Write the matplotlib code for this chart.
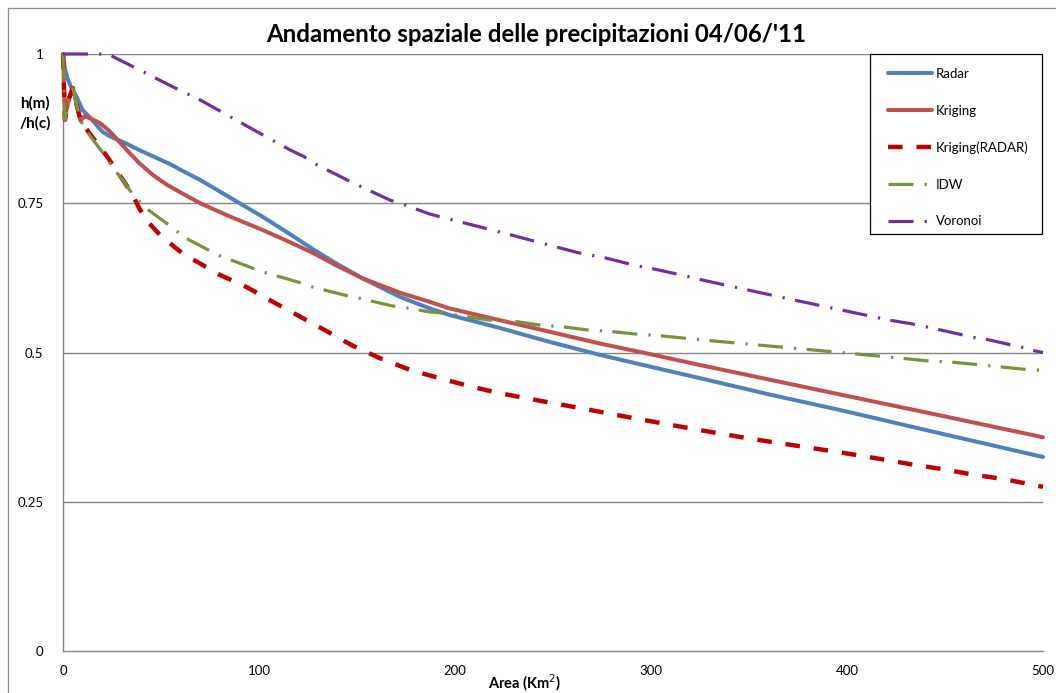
import matplotlib
matplotlib.use("Agg")
import matplotlib.pyplot as plt
from matplotlib.patches import Rectangle

plt.rcParams['font.family'] = ['Lato', 'DejaVu Sans']
plt.rcParams['lines.scale_dashes'] = False

# ---------------- data ----------------
area_radar = [0, 1, 2, 4, 7, 10, 14, 20, 24, 31, 39, 55, 60, 70, 85, 102, 115, 128, 140,
              153, 172, 187, 197, 223, 248, 274, 300, 325, 360, 396, 447, 500]
radar = [1.0, 0.975, 0.962, 0.945, 0.928, 0.906, 0.893, 0.870, 0.862, 0.852, 0.839, 0.815,
         0.806, 0.789, 0.760, 0.727, 0.700, 0.672, 0.648, 0.624, 0.593, 0.574, 0.563, 0.541,
         0.518, 0.496, 0.476, 0.457, 0.430, 0.404, 0.365, 0.325]

area_kriging = [0, 1, 3, 5, 7, 9, 11, 14, 19, 24, 29, 34, 39, 46, 53, 60, 70, 85, 102, 115,
                128, 140, 153, 172, 187, 197, 223, 248, 274, 300, 325, 396, 447, 500]
kriging = [1.0, 0.893, 0.925, 0.943, 0.915, 0.888, 0.896, 0.892, 0.884, 0.870, 0.852, 0.834,
           0.817, 0.797, 0.781, 0.768, 0.750, 0.728, 0.705, 0.686, 0.666, 0.645, 0.624, 0.600,
           0.585, 0.574, 0.554, 0.535, 0.515, 0.497, 0.479, 0.430, 0.395, 0.358]

area_krad = [0, 1, 3, 5, 7, 9, 14, 18, 23, 27, 31, 35, 39, 43, 50, 61, 80, 94, 107, 121, 135,
             148, 162, 177, 192, 207, 221, 237, 252, 267, 283, 298, 313, 325, 350, 396, 420,
             434, 450, 465, 480, 500]
kriging_radar = [1.0, 0.89, 0.925, 0.943, 0.915, 0.888, 0.865, 0.848, 0.826, 0.806, 0.787,
                 0.767, 0.741, 0.720, 0.695, 0.666, 0.630, 0.609, 0.585, 0.560, 0.535, 0.511,
                 0.490, 0.471, 0.457, 0.444, 0.433, 0.423, 0.414, 0.405, 0.395, 0.386, 0.377,
                 0.370, 0.356, 0.333, 0.320, 0.312, 0.304, 0.295, 0.288, 0.275]

area_idw = [0, 1, 3, 5, 7, 9, 14, 20, 27, 31, 34, 39, 43.5, 53, 63, 74, 80, 97, 103, 121, 127,
            145, 151, 168, 175, 187, 194, 206, 218, 231, 243, 255, 267, 280, 292, 305, 317,
            323, 360, 397, 416, 429, 441, 453, 466, 478, 490, 500]
idw = [1.0, 0.89, 0.925, 0.943, 0.915, 0.888, 0.862, 0.836, 0.803, 0.787, 0.772, 0.753, 0.739,
       0.716, 0.691, 0.672, 0.662, 0.641, 0.634, 0.617, 0.610, 0.595, 0.591, 0.578, 0.575,
       0.568, 0.566, 0.560, 0.554, 0.552, 0.546, 0.543, 0.538, 0.535, 0.531, 0.528, 0.524,
       0.522, 0.511, 0.500, 0.494, 0.490, 0.486, 0.484, 0.480, 0.476, 0.472, 0.470]

area_voronoi = [0, 20, 24, 35, 41, 56, 70, 100, 116, 123, 128, 145, 150, 167, 173, 187, 225,
                263, 269, 276, 287, 293, 300, 311, 317, 324, 370, 422, 433, 439, 446, 457,
                463, 470, 482, 488, 494, 500]
voronoi = [1.0, 1.0, 0.998, 0.980, 0.970, 0.945, 0.923, 0.868, 0.839, 0.828, 0.817, 0.789,
           0.781, 0.755, 0.749, 0.732, 0.700, 0.667, 0.663, 0.659, 0.650, 0.645, 0.641, 0.633,
           0.629, 0.623, 0.590, 0.554, 0.548, 0.544, 0.539, 0.531, 0.526, 0.523, 0.514, 0.510,
           0.504, 0.500]

x_ticks = [0, 100, 200, 300, 400, 500]
y_ticks = [0, 0.25, 0.5, 0.75, 1]
y_tick_labels = ["0", "0.25", "0.5", "0.75", "1"]

# ---------------- figure ----------------
W, H = 1056, 693
fig = plt.figure(figsize=(W / 100, H / 100), dpi=100)
fig.patch.set_facecolor("white")

# outer chart frame
fig.patches.append(Rectangle((8 / W, -0.05), 1.2, 1 - 8 / H + 0.05, transform=fig.transFigure,
                             fill=False, edgecolor="#8c8c8c", linewidth=0.9))

ax = fig.add_axes([63 / W, 1 - 651 / H, (1043 - 63) / W, (651 - 54) / H])
ax.set_xlim(0, 500)
ax.set_ylim(0, 1)

for y in [0.25, 0.5, 0.75, 1.0]:
    ax.axhline(y, color="#868686", linewidth=1.0, zorder=1)

for s in ["top", "right"]:
    ax.spines[s].set_visible(False)
for s in ["left", "bottom"]:
    ax.spines[s].set_color("#868686")
    ax.spines[s].set_linewidth(1.0)

ax.set_xticks(x_ticks)
ax.set_xticklabels([str(v) for v in x_ticks])
ax.set_yticks(y_ticks)
ax.set_yticklabels(y_tick_labels)
ax.tick_params(axis="both", length=0, labelsize=9.5, colors="black")
ax.tick_params(axis="y", pad=14)
ax.tick_params(axis="x", pad=10)

l1, = ax.plot(area_radar, radar, color="#4F81BD", lw=2.9, label="Radar", zorder=3,
              solid_joinstyle="round", solid_capstyle="round")
l2, = ax.plot(area_kriging, kriging, color="#C0504D", lw=2.9, label="Kriging", zorder=4,
              solid_joinstyle="round", solid_capstyle="round")
l3, = ax.plot(area_krad, kriging_radar, color="#C00000", lw=3.2, label="Kriging(RADAR)",
              linestyle=(0, (10.5, 10)), zorder=5)
l4, = ax.plot(area_idw, idw, color="#77933C", lw=2.3, label="IDW",
              linestyle=(0, (18, 8, 1.6, 7.5)), zorder=6)
l5, = ax.plot(area_voronoi, voronoi, color="#7030A0", lw=2.3, label="Voronoi",
              linestyle=(0, (18, 8, 1.6, 7.5)), zorder=6)

for ln in (l1, l2, l3, l4, l5):
    ln.set_clip_on(False)

# legend box
ax.add_patch(Rectangle(((870 - 63) / 980, 1 - (234 - 54) / 597), (1042 - 870) / 980,
                       (234 - 54) / 597, transform=ax.transAxes, facecolor="white",
                       edgecolor="black", linewidth=0.9, zorder=10, clip_on=False))
leg = ax.legend(loc="upper left", bbox_to_anchor=((888 - 63) / 980, 1 - 14 / 597),
                frameon=False, fontsize=9.5, handlelength=3.3, handletextpad=0.35,
                labelspacing=1.87, borderpad=0, borderaxespad=0)
leg.set_zorder(11)

fig.text(536 / W, 1 - 35 / H, "Andamento spaziale delle precipitazioni 04/06/'11",
         fontsize=17.3, fontweight="bold", ha="center", va="center")
ax.set_xlabel("Area (Km$^2$)", fontsize=10.5, fontweight="bold")
ax.xaxis.set_label_coords((525 - 63) / 980, -(683 - 651) / 597)
ax.xaxis.label.set_va("center")
fig.text(35 / W, 1 - 113 / H, "h(m)\n/h(c)", ha="center", va="center", fontsize=11,
         fontweight="bold", linespacing=1.5)

fig.savefig("out.png", dpi=100)
